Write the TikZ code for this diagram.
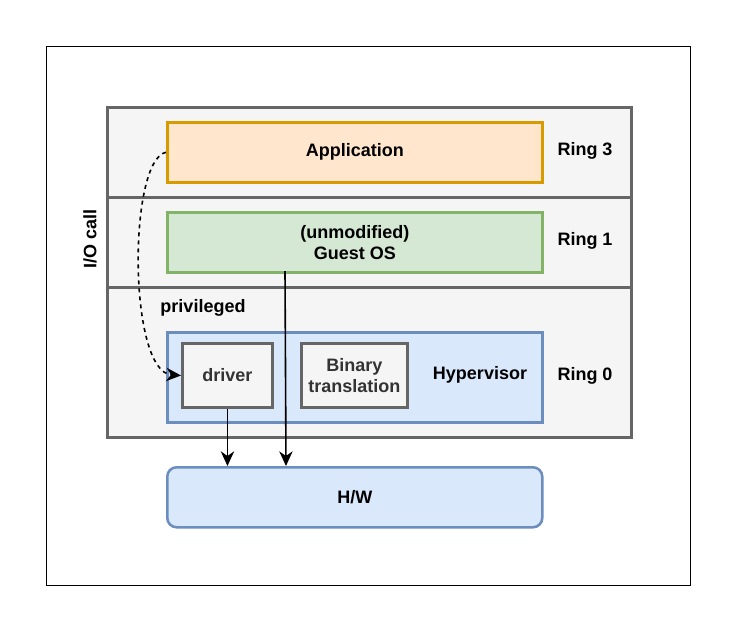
\documentclass[tikz,border=0pt]{standalone}
\usepackage{fontspec}
\setmainfont{Liberation Sans}
\usetikzlibrary{arrows.meta}
\definecolor{grayfill}{HTML}{F5F5F5}
\definecolor{graystroke}{HTML}{666666}
\definecolor{orfill}{HTML}{FFE6CC}
\definecolor{orstroke}{HTML}{D79B00}
\definecolor{grfill}{HTML}{D5E8D4}
\definecolor{grstroke}{HTML}{82B366}
\definecolor{blfill}{HTML}{DAE8FC}
\definecolor{blstroke}{HTML}{6C8EBF}
\definecolor{darktext}{HTML}{333333}
\begin{document}
\begin{tikzpicture}[x=0.75pt,y=-0.75pt,
  every node/.style={font=\fontsize{13.5pt}{15.5pt}\selectfont\bfseries, inner sep=0pt, align=center},
  ringrow/.style={draw=graystroke, fill=grayfill, line width=2.2pt, rectangle, anchor=north west},
  boxbase/.style={rectangle, line width=1.9pt, anchor=north west},
  appbox/.style={boxbase, draw=orstroke, fill=orfill},
  osbox/.style={boxbase, draw=grstroke, fill=grfill},
  hvbox/.style={boxbase, draw=blstroke, fill=blfill},
  inner/.style={boxbase, draw=graystroke, fill=grayfill, text=darktext, line width=2.2pt},
  hwbox/.style={boxbase, draw=blstroke, fill=blfill, rounded corners=7pt},
  arr/.style={-{Stealth[length=11pt,width=10pt,inset=3.5pt]}, line width=1.2pt},
  lbl/.style={}
]
\useasboundingbox (0,0) rectangle (737,632);
\node[draw=black, line width=1.1pt, rectangle, anchor=north west, minimum width=644*0.75pt, minimum height=539*0.75pt] (frame) at (46,46) {};
\node[ringrow, minimum width=524*0.75pt, minimum height=90*0.75pt] (r3) at (106,106) {};
\node[ringrow, minimum width=524*0.75pt, minimum height=90*0.75pt] (r1) at (106,196) {};
\node[ringrow, minimum width=524*0.75pt, minimum height=150*0.75pt] (r0) at (106,286) {};
\node[appbox, minimum width=375*0.75pt, minimum height=60*0.75pt] (app) at (166,121) {Application};
\node[osbox, minimum width=375*0.75pt, minimum height=60*0.75pt] (os) at (166,211) {(unmodified)\\Guest OS};
\node[hvbox, minimum width=375*0.75pt, minimum height=90*0.75pt] (hv) at (166,331) {};
\node[inner, minimum width=90*0.75pt, minimum height=64*0.75pt] (drv) at (181,342) {driver};
\node[inner, minimum width=106*0.75pt, minimum height=64*0.75pt] (bt) at (300,342) {Binary\\translation};
\node[lbl] (hvl) at (480,375) {Hypervisor};
\node[hwbox, minimum width=375*0.75pt, minimum height=60*0.75pt] (hw) at (166,466) {H/W};
\node[lbl] (ring3) at (585,151) {Ring 3};
\node[lbl] (ring1) at (585,241) {Ring 1};
\node[lbl] (ring0) at (585,376) {Ring 0};
\node[lbl] (priv) at (203,308) {privileged};
\node[lbl, rotate=90] (io) at (90,239) {I/O call};
\coordinate (osout) at (285,271);
\coordinate (hwin2) at (286,466);
\draw[arr] (drv.south) -- (drv.south |- hw.north);
\draw[arr] (osout) -- (hwin2);
\draw[arr, dashed] (app.west) .. controls (128,160) and (128,372) .. (drv.west);
\end{tikzpicture}
\end{document}
